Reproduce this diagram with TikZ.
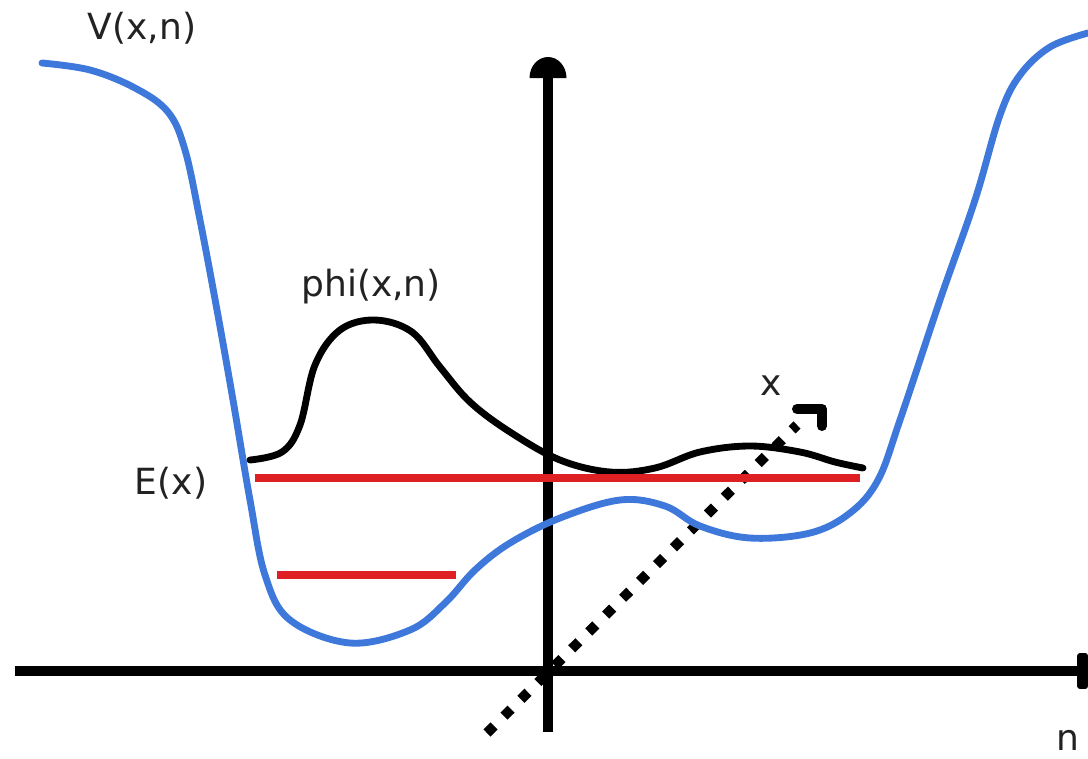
\documentclass[tikz,border=0pt]{standalone}
\usepackage{fontspec}
\setmainfont{DejaVu Sans}
\usetikzlibrary{arrows.meta}
\definecolor{potblue}{RGB}{62,120,218}
\definecolor{levelred}{RGB}{222,32,36}
\definecolor{labelgray}{RGB}{34,34,34}
\tikzset{
  axis/.style={line width=6pt},
  potential/.style={potblue,line width=3.9pt,line cap=round},
  wave/.style={black,line width=3.9pt,line cap=round},
  level/.style={levelred,line width=4.2pt},
  depth/.style={line width=5.7pt,dash pattern=on 5.7pt off 7.9pt},
  lbl/.style={labelgray,font=\fontsize{20.5}{22}\selectfont,inner sep=0pt}
}
\begin{document}
\begin{tikzpicture}[x=0.02cm,y=-0.02cm]
\useasboundingbox (0,0) rectangle (1088,758);
   \coordinate (O) at (548,671);
   \coordinate (ytop) at (548,78);
   \coordinate (ybot) at (548,732);
   \coordinate (xleft) at (15,671);
   \coordinate (xright) at (1088,671);
   \coordinate (zlo) at (487,733);
   \coordinate (zhi) at (797,425);
   \coordinate (zhook) at (822,409);
   \node[lbl] at (142,28) (V) {V(x,n)};
   \node[lbl] at (371,287) (phi) {phi(x,n)};
   \node[lbl] at (171,483) (E) {E(x)};
   \node[lbl] at (771,386) (x) {x};
   \node[lbl] at (1068,740) (n) {n};
    \draw[axis] (ybot) -- (ytop);
    \fill ([xshift=-0.37cm]ytop) arc[start angle=180,end angle=0,x radius=0.37cm,y radius=0.42cm] -- cycle;
    \draw[axis,-{Rectangle[length=6pt,width=20pt,round]}] (xleft) -- (xright);
    \draw[depth] (zlo) -- (zhi);
    \draw[line width=5.7pt,line join=round,line cap=round] (zhook -| zhi) -- (zhook) -- ++(0,17);
    \draw[potential] plot[smooth,tension=0.6] coordinates {(42,63) (90,70) (135,88) (168,112)
      (185,150) (200,220) (217,310) (233,400) (250,500) (265,575) (290,620) (350,643) (410,630)
      (445,603) (475,570) (510,543) (560,518) (620,500) (665,506) (700,526) (750,538) (810,533)
      (850,513) (878,480) (900,420) (940,300) (975,200) (1000,115) (1020,75) (1050,47) (1088,33)};
    \draw[wave] plot[smooth,tension=0.6] coordinates {(250,460) (282,452) (300,425) (315,365)
      (340,330) (375,320) (412,332) (440,367) (470,402) (510,432) (560,460) (610,472) (655,468)
      (700,452) (750,446) (800,452) (835,462) (863,468)};
    \draw[level] (255,478) -- (860,478);
    \draw[level] (277,575) -- (456,575);
    \end{tikzpicture}
\end{document}
